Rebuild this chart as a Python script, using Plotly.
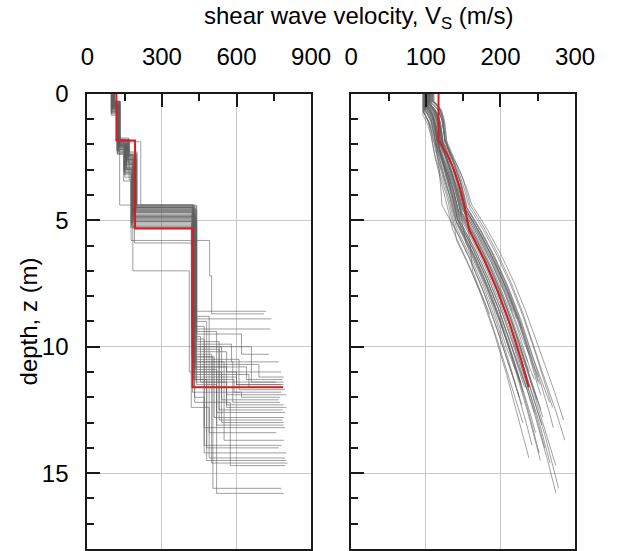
import numpy as np
import plotly.graph_objects as go

# ---------------- data ----------------
# Gray profiles: layered Vs profiles (layer velocities and layer-bottom depths)
v1 = [102, 98, 108, 100, 105, 96, 110, 103, 99, 107,
      101, 104, 97, 106, 100, 109, 103, 98, 105, 101,
      111, 99, 104, 102, 100, 107, 96, 103, 108, 101,
      99, 105, 102, 106, 98, 104, 100, 103, 97, 109]
z1 = [0.45, 0.55, 0.35, 0.60, 0.40, 0.70, 0.30, 0.50, 0.65, 0.45,
      0.55, 0.40, 0.75, 0.35, 0.50, 0.30, 0.60, 0.80, 0.45, 0.50,
      0.35, 0.65, 0.45, 0.55, 0.40, 0.50, 0.85, 0.45, 0.30, 0.60,
      0.70, 0.40, 0.50, 0.35, 0.60, 0.45, 0.55, 0.40, 0.75, 0.30]
v2 = [126, 122, 130, 124, 128, 120, 132, 127, 125, 129,
      123, 127, 118, 131, 125, 129, 121, 126, 128, 124,
      130, 122, 127, 125, 119, 128, 121, 126, 132, 124,
      123, 129, 126, 131, 120, 127, 125, 128, 122, 130]
z2 = [1.95, 2.10, 1.85, 2.00, 2.20, 1.80, 2.05, 2.30, 1.90, 2.15,
      2.05, 1.90, 2.25, 1.80, 2.10, 2.00, 2.35, 1.95, 1.85, 2.20,
      1.90, 2.15, 2.00, 2.30, 1.75, 2.05, 2.40, 1.95, 1.85, 2.10,
      2.25, 1.95, 2.05, 1.80, 2.35, 2.00, 2.10, 1.90, 2.20, 1.85]
v3 = [155, 150, 162, 148, 165, 152, 158, 156, 149, 168,
      154, 163, 147, 166, 157, 160, 151, 158, 164, 150,
      161, 148, 157, 153, 167, 155, 146, 159, 170, 152,
      130, 163, 156, 170, 150, 154, 160, 215, 151, 165]
z3 = [2.60, 2.90, 2.45, 3.20, 2.75, 2.40, 3.00, 2.70, 2.95, 3.40,
      2.80, 2.55, 3.10, 2.40, 2.95, 2.65, 3.30, 2.60, 2.50, 3.05,
      2.45, 3.00, 2.70, 2.90, 2.35, 2.80, 3.45, 2.55, 2.30, 3.10,
      4.40, 2.60, 2.75, 2.50, 3.15, 2.85, 2.65, 4.40, 3.00, 2.45]
v4 = [186, 182, 192, 178, 195, 184, 189, 180, 177, 198,
      188, 196, 176, 199, 185, 193, 179, 187, 195, 183,
      194, 180, 189, 184, 197, 186, 175, 191, 200, 181,
      180, 196, 188, 183, 176, 185, 190, 215, 182, 192]
z4 = [4.70, 4.95, 4.50, 5.20, 4.60, 5.30, 4.80, 5.05, 4.90, 4.40,
      4.60, 4.50, 5.10, 4.45, 4.85, 4.65, 5.25, 4.75, 4.55, 5.00,
      4.50, 5.05, 4.70, 4.90, 4.45, 4.80, 5.30, 4.60, 4.40, 5.15,
      4.40, 4.55, 4.85, 7.00, 5.80, 4.65, 5.90, 4.40, 4.95, 4.50]
v5 = [428, 433, 422, 437, 426, 431, 421, 440, 429, 424,
      427, 434, 419, 438, 429, 432, 423, 436, 426, 430,
      425, 433, 421, 437, 428, 432, 418, 440, 426, 429,
      430, 436, 427, 410, 492, 432, 422, 440, 426, 430]
z5 = [10.2, 9.4, 11.2, 8.8, 10.8, 12.0, 9.9, 11.5, 10.5, 8.6,
      10.0, 10.7, 9.2, 11.4, 10.3, 8.9, 11.8, 10.9, 9.6, 11.1,
      9.7, 11.3, 10.4, 9.0, 11.6, 10.1, 12.4, 9.5, 10.6, 11.0,
      10.8, 9.3, 10.4, 11.0, 7.2, 12.2, 10.0, 9.8, 11.3, 10.6]
v6 = [560, 520, 600, 490, 640, 470, 580, 520, 610, 430,
      540, 690, 470, 560, 500, 430, 620, 520, 455, 650,
      470, 590, 510, 480, 560, 530, 490, 620, 550, 600,
      560, 470, 505, 540, 500, 575, 660, 530, 480, 585]
z_end = [11.0, 12.6, 11.5, 13.4, 11.3, 14.2, 10.6, 15.8, 11.7, 8.6,
         12.1, 11.2, 13.9, 12.4, 14.6, 8.9, 12.0, 13.1, 11.4, 11.6,
         13.2, 11.8, 12.8, 14.0, 11.9, 12.5, 14.4, 10.3, 13.7, 11.5,
         12.3, 9.3, 15.6, 13.0, 8.7, 14.7, 11.4, 12.9, 14.5, 12.2]
v_halfspace = [780, 795, 790, 760, 785, 800, 770, 790, 795, 720,
               770, 790, 780, 800, 805, 740, 775, 790, 760, 785,
               795, 780, 790, 770, 800, 785, 795, 730, 790, 780,
               790, 735, 780, 790, 710, 795, 790, 785, 800, 775]

# Red (median) profile
red_vs = [117, 192, 423]
red_bottom = [1.85, 5.33, 11.6]
red_halfspace = 788

# axis ticks
left_ticks = [0, 300, 600, 900]
right_ticks = [0, 100, 200, 300]
depth_ticks = [0, 5, 10, 15]

# ---------------- helpers ----------------
def step_xy(vs, bottoms, vhs):
    x = list(vs) + [vhs]
    y = [0.0] + list(bottoms)
    return x, y


def time_avg(vs, bottoms):
    """time-averaged velocity Vs,z = z / travel time, evaluated down the profile"""
    tops = [0.0] + list(bottoms[:-1])
    zmax = bottoms[-1]
    zs = sorted(set(list(np.arange(0.1, zmax, 0.1)) + list(bottoms)))
    out_z, out_v = [0.0], [vs[0]]
    for z in zs:
        t = 0.0
        for v, a, b in zip(vs, tops, bottoms):
            h = min(z, b) - a
            if h > 0:
                t += h / v
        out_z.append(z)
        out_v.append(z / t)
    return out_v, out_z


gray = 'rgba(95,95,95,0.75)'
red = 'rgb(214,28,34)'

fig = go.Figure()

n = len(v1)
for i in range(n):
    vs = [v1[i], v2[i], v3[i], v4[i], v5[i], v6[i]]
    bt = [z1[i], z2[i], z3[i], z4[i], z5[i], z_end[i]]
    x, y = step_xy(vs, bt, v_halfspace[i])
    fig.add_trace(go.Scatter(x=x, y=y, mode='lines', line=dict(color=gray, width=0.8, shape='vh'),
                             xaxis='x', yaxis='y', showlegend=False, hoverinfo='skip'))
    xv, zv = time_avg(vs, bt)
    fig.add_trace(go.Scatter(x=xv, y=zv, mode='lines', line=dict(color=gray, width=0.8),
                             xaxis='x2', yaxis='y2', showlegend=False, hoverinfo='skip'))

x, y = step_xy(red_vs, red_bottom, red_halfspace)
fig.add_trace(go.Scatter(x=x, y=y, mode='lines', line=dict(color=red, width=2, shape='vh'),
                         xaxis='x', yaxis='y', showlegend=False))
xv, zv = time_avg(red_vs, red_bottom)
fig.add_trace(go.Scatter(x=xv, y=zv, mode='lines', line=dict(color=red, width=2),
                         xaxis='x2', yaxis='y2', showlegend=False))

W, H = 618, 551
font = dict(family='Liberation Sans, Arial, sans-serif', size=24, color='black')

common = dict(showline=True, mirror=True, linecolor='#1a1a1a', linewidth=2,
              ticks='inside', ticklen=13, tickwidth=2, tickcolor='#1a1a1a',
              showgrid=True, gridcolor='#c8c8c8', gridwidth=1, zeroline=False,
              tickfont=font)

fig.update_layout(
    width=W, height=H,
    margin=dict(l=0, r=0, t=0, b=0),
    paper_bgcolor='white', plot_bgcolor='white',
    font=font,
    xaxis=dict(domain=[84 / W, 318 / W], range=[0, 900], side='top', anchor='y',
               tickvals=left_ticks, ticktext=[str(t) for t in left_ticks], ticklabelstandoff=17,
               minor=dict(dtick=150, tick0=0, ticks='inside', ticklen=7, tickwidth=2,
                          tickcolor='#1a1a1a', showgrid=False), **common),
    yaxis=dict(domain=[1 - 550 / H, 1 - 82 / H], range=[18, 0], anchor='x',
               tickvals=depth_ticks, ticktext=[str(t) for t in depth_ticks], ticklabelstandoff=12,
               minor=dict(dtick=1, tick0=0, ticks='inside', ticklen=7, tickwidth=2,
                          tickcolor='#1a1a1a', showgrid=False), **common),
    xaxis2=dict(domain=[360 / W, 594 / W], range=[0, 300], side='top', anchor='y2',
                tickvals=right_ticks, ticktext=[str(t) for t in right_ticks], ticklabelstandoff=17,
                minor=dict(dtick=50, tick0=0, ticks='inside', ticklen=7, tickwidth=2,
                           tickcolor='#1a1a1a', showgrid=False), **common),
    yaxis2=dict(domain=[1 - 550 / H, 1 - 82 / H], range=[18, 0], anchor='x2',
                tickvals=depth_ticks, showticklabels=False,
                minor=dict(dtick=1, tick0=0, ticks='inside', ticklen=7, tickwidth=2,
                           tickcolor='#1a1a1a', showgrid=False), **common),
    annotations=[
        dict(text='shear wave velocity, V<sub>S</sub> (m/s)', x=368 / W, y=1 - 4 / H,
             xref='paper', yref='paper', showarrow=False, xanchor='center', yanchor='middle',
             font=font),
        dict(text='depth, z (m)', x=22 / W, y=1 - 316 / H, xref='paper', yref='paper',
             showarrow=False, textangle=-90, xanchor='center', yanchor='middle', font=font),
    ],
)

fig.write_html('out.html')
